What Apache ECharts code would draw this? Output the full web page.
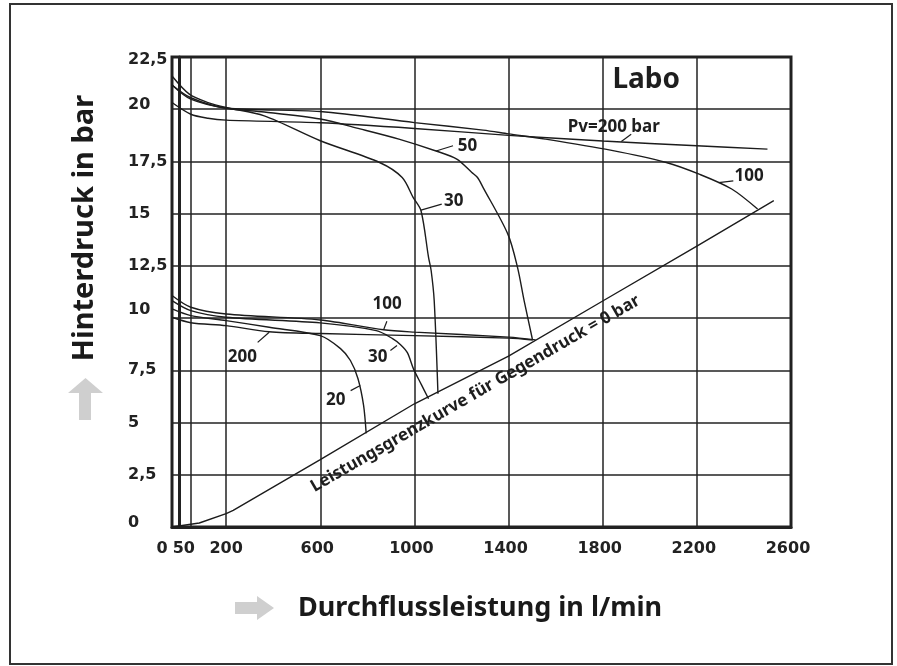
<!DOCTYPE html>
<html><head><meta charset="utf-8">
<script src="https://cdn.jsdelivr.net/npm/echarts@6/dist/echarts.min.js"></script>
<style>html,body{margin:0;padding:0;background:#fff}#c{width:897px;height:666px}</style>
</head><body><div id="c"></div>
<script>
// ---- axis ticks ----
const X_TICKS = [0, 50, 200, 600, 1000, 1400, 1800, 2200, 2600];
const Y_MIN = 0, Y_MAX = 22.5, Y_STEP = 2.5;

// ---- curves [flow l/min, back pressure bar] ----
const upperPv200 = [[0,20.32],[50,19.76],[123,19.57],[200,19.48],[600,19.35],[1000,19.08],[1400,18.75],[1800,18.48],[2200,18.25],[2500,18.09]];
const upper100 = [[0,21.16],[50,20.55],[200,20.06],[600,19.89],[1000,19.36],[1292,19.0],[1400,18.82],[1556,18.57],[1833,18.04],[2070,17.45],[2210,16.89],[2348,16.18],[2458,15.22]];
const upper50 = [[0,21.16],[50,20.48],[200,20.04],[362,19.87],[600,19.53],[769,19.06],[934,18.57],[1092,18.0],[1180,17.61],[1244,16.97],[1268,16.73],[1292,16.25],[1397,14.02],[1438,12.43],[1466,10.84],[1501,9.0]];
const upper30 = [[0,21.59],[46,20.72],[123,20.32],[200,20.08],[362,19.68],[600,18.49],[852,17.45],[948,16.73],[995,15.77],[1028,15.14],[1060,12.91],[1071,12.28],[1084,10.84],[1100,6.38]];
const lower100 = [[0,11.08],[50,10.52],[200,10.2],[600,9.91],[869,9.44],[1000,9.33],[1400,9.09],[1515,8.96]];
const lower200 = [[0,10.04],[50,9.78],[200,9.64],[383,9.35],[600,9.26],[1000,9.16],[1400,9.04],[1503,8.95]];
const lower30 = [[0,10.84],[50,10.36],[200,10.04],[600,9.77],[838,9.40],[907,9.02],[941,8.73],[970,8.35],[996,7.57],[1028,6.85],[1060,6.14]];
const lower20 = [[0,10.44],[50,10.12],[200,9.88],[383,9.56],[600,9.16],[686,8.54],[728,7.97],[760,7.11],[784,5.82],[795,4.48]];
const limitCurve = [[0,0],[86,0.19],[200,0.64],[230,0.80],[600,3.23],[1000,5.90],[1400,8.18],[1800,10.82],[2200,13.45],[2527,15.62]];

// ---- annotations (text, flow, bar) ----
const annotations = [
  ['Labo', 1985, 21.4],
  ['Pv=200 bar', 1847, 19.12],
  ['100', 2422, 16.81],
  ['50', 1225, 18.22],
  ['30', 1167, 15.59],
  ['100', 884, 10.67],
  ['30', 844, 8.13],
  ['20', 666, 6.06],
  ['200', 269, 8.13],
  ['Leistungsgrenzkurve für Gegendruck = 0 bar', 1259, 6.38]
];
const leaders = [
  [[1879,18.45],[1921,18.8]],
  [[2293,16.49],[2355,16.57]],
  [[1092,18.0],[1164,18.25]],
  [[1028,15.17],[1116,15.46]],
  [[869,9.44],[883,9.85]],
  [[898,8.45],[926,8.69]],
  [[729,6.53],[770,6.77]],
  [[334,8.84],[383,9.32]]
];

// The drawn flow axis is stretched between 0 and 50
const X_START = -30;
const axisPos = q => q < 50 ? X_START + q * (50 - X_START) / 50 : q;
const tickPos = X_TICKS.map(axisPos);
const mapSeries = arr => arr.map(d => [axisPos(d[0]), d[1]]);

const TICK_FONT = { fontFamily: 'DejaVu Sans', fontWeight: 'bold', fontSize: 16, color: '#222' };
const xTickLabel = v => {
  const i = tickPos.findIndex(t => Math.abs(t - v) < 1e-6);
  if (i < 0) return '';
  const s = String(X_TICKS[i]);
  if (i === 0) return '{a|' + s + '}';
  if (i === 1) return '{b|' + s + '}';
  if (i === 2) return '{n|' + s + '}';
  return '{c|' + s + '}';
};
const yTickLabel = v => {
  const s = String(v).replace('.', ',');
  if (v === 22.5) return '{d|' + s + '}';
  if (v === 20 || v === 0) return '{u|' + s + '}';
  if (v === 10) return '{w|' + s + '}';
  return '{n|' + s + '}';
};

const INK = '#1c1c1c';
const curveStyle = { color: INK, width: 1.4 };
const curves = [upperPv200, upper100, upper50, upper30, lower100, lower200, lower30, lower20];

const series = curves.map(c => ({
  type: 'line', data: mapSeries(c), showSymbol: false, symbol: 'none',
  smooth: 0.3, lineStyle: curveStyle, silent: true, z: 3
}));
series.push({ type: 'line', data: mapSeries(limitCurve), showSymbol: false, symbol: 'none',
  smooth: false, lineStyle: curveStyle, silent: true, z: 3 });
series.push({
  type: 'lines', coordinateSystem: 'cartesian2d', silent: true, z: 4,
  lineStyle: { color: INK, width: 1.2, opacity: 1 },
  data: leaders.map(l => ({ coords: l.map(p => [axisPos(p[0]), p[1]]) }))
});

const chart = echarts.init(document.getElementById('c'), null, { renderer: 'canvas' });
chart.setOption({
  animation: false,
  backgroundColor: '#fff',
  grid: { left: 172, right: 106, top: 57, bottom: 139, show: true, borderColor: '#222', borderWidth: 3 },
  xAxis: {
    type: 'value', min: X_START, max: X_TICKS[X_TICKS.length - 1],
    axisLine: { show: true, onZero: false, lineStyle: { color: '#222', width: 3 } },
    axisTick: { show: false, customValues: tickPos },
    axisLabel: Object.assign({ customValues: tickPos, formatter: xTickLabel, margin: 14,
      rich: {
        a: Object.assign({ padding: [0, 20, 0, 0] }, TICK_FONT),
        b: Object.assign({ padding: [0, 14, 0, 0] }, TICK_FONT),
        c: Object.assign({ padding: [0, 6, 0, 0] }, TICK_FONT),
        n: Object.assign({}, TICK_FONT)
      } }, TICK_FONT),
    splitLine: { show: true, lineStyle: { color: '#222', width: 1.5 } }
  },
  yAxis: {
    type: 'value', min: Y_MIN, max: Y_MAX, interval: Y_STEP,
    axisLine: { show: true, lineStyle: { color: '#222', width: 3 } },
    axisTick: { show: false },
    axisLabel: Object.assign({ formatter: yTickLabel, align: 'left', margin: 44,
      rich: {
        d: Object.assign({ padding: [6, 0, 0, 0] }, TICK_FONT),
        u: Object.assign({ padding: [0, 0, 9, 0] }, TICK_FONT),
        w: Object.assign({ padding: [0, 0, 16, 0] }, TICK_FONT),
        n: Object.assign({}, TICK_FONT)
      } }, TICK_FONT),
    splitLine: { show: true, lineStyle: { color: '#222', width: 1.5 } }
  },
  series
});

// annotation texts placed through the chart's own coordinate conversion
const textGraphics = annotations.map(a => {
  const p = chart.convertToPixel({ gridIndex: 0 }, [axisPos(a[1]), a[2]]);
  const isTitle = a[0] === 'Labo';
  const isLimit = a[0].startsWith('Leistungs');
  return {
    type: 'text', x: p[0], y: p[1], rotation: isLimit ? Math.PI / 6 : 0, z: 10,
    style: { text: a[0], fill: '#1e1e1e', textAlign: 'center', textVerticalAlign: 'middle',
      font: 'bold ' + (isTitle ? 28 : 17) + 'px "Noto Sans"' }
  };
});

chart.setOption({
  graphic: [
    { type: 'rect', shape: { x: 10, y: 4, width: 882, height: 660 }, style: { fill: 'none', stroke: '#333', lineWidth: 2 }, silent: true },
    { type: 'text', x: 480, y: 608, style: { text: 'Durchflussleistung in l/min', fill: '#1a1a1a',
      font: 'bold 27px "Noto Sans"', textAlign: 'center', textVerticalAlign: 'middle' } },
    { type: 'text', x: 85, y: 228, rotation: Math.PI / 2, style: { text: 'Hinterdruck in bar', fill: '#1a1a1a',
      font: 'bold 29px "Noto Sans"', textAlign: 'center', textVerticalAlign: 'middle' } },
    { type: 'polygon', shape: { points: [[235,602],[257,602],[257,596],[274,608],[257,620],[257,614],[235,614]] }, style: { fill: '#cfcfcf' } },
    { type: 'polygon', shape: { points: [[85.5,378],[103,393],[91,393],[91,420],[79,420],[79,393],[68,393]] }, style: { fill: '#cfcfcf' } }
  ].concat(textGraphics)
});
</script></body></html>
